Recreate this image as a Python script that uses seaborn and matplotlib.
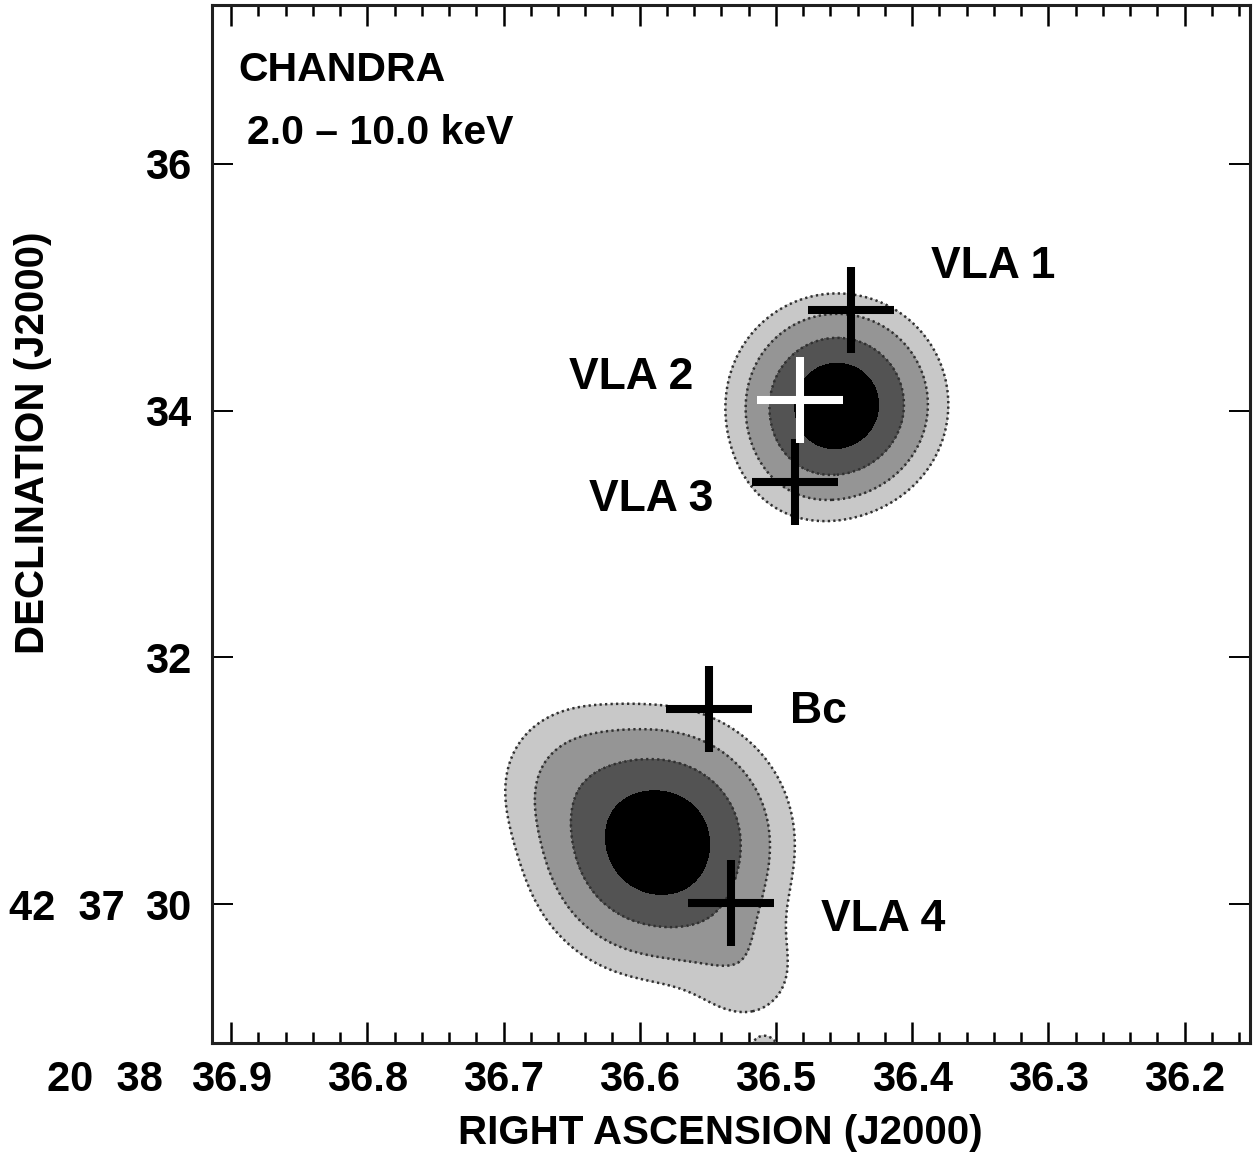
import numpy as np
import pandas as pd
import matplotlib
matplotlib.use('Agg')
import matplotlib.pyplot as plt
from matplotlib import font_manager
from matplotlib.ticker import MultipleLocator
import seaborn as sns

# Componentes de la emision X (RA en s de 20h38m, Dec en arcsec de +42d37')
src_ra = [36.455, 36.478, 36.586, 36.545, 36.521, 36.648, 36.508]
src_dec = [34.050, 33.600, 30.498, 29.833, 29.428, 31.008, 28.804]
src_amp = [1.00, 0.06, 1.00, 0.065, 0.07, 0.12, 0.07]
src_sig = [0.36, 0.30, 0.44, 0.30, 0.28, 0.35, 0.10]   # arcsec

niveles = [0.044, 0.125, 0.325, 0.652, 10.0]
grises = ['#c8c8c8', '#959595', '#535353', '#000000']

# Fuentes de radio
radio_nombre = ['VLA 1', 'VLA 2', 'VLA 3', 'Bc', 'VLA 4']
radio_ra = [36.445, 36.482, 36.486, 36.549, 36.533]
radio_dec = [34.817, 34.087, 33.423, 31.583, 30.011]
radio_color = ['black', 'white', 'black', 'black', 'black']
etiqueta_ra = [36.386, 36.652, 36.637, 36.490, 36.467]
etiqueta_dec = [35.165, 34.266, 33.277, 31.559, 29.874]

ra_ticks = [36.9, 36.8, 36.7, 36.6, 36.5, 36.4, 36.3, 36.2]
dec_ticks = [30, 32, 34, 36]

sns.set_style('white')
disponibles = {f.name for f in font_manager.fontManager.ttflist}
if 'Liberation Sans Narrow' in disponibles:
    fuente_ejes, tam_ticks, tam_labels = 'Liberation Sans Narrow', 35, 35
else:
    fuente_ejes, tam_ticks, tam_labels = 'Liberation Sans', 30, 29
plt.rcParams['font.family'] = ['Liberation Sans', 'DejaVu Sans']
plt.rcParams['font.weight'] = 'bold'
for clave in ['text.color', 'axes.labelcolor', 'xtick.color', 'ytick.color']:
    plt.rcParams[clave] = 'black'

fig = plt.figure(figsize=(12.53, 11.57), dpi=100)
ax = fig.add_axes([212 / 1253, 1 - 1043 / 1157, 1038 / 1253, 1038 / 1157])

# Mapa de intensidad
escala_ra = 15 * np.cos(np.radians(42 + 37 / 60))
gx = np.linspace(36.10, 36.95, 700)
gy = np.linspace(28.40, 37.40, 800)
X, Y = np.meshgrid(gx, gy)
Z = np.zeros_like(X)
for ra, dec, amp, sig in zip(src_ra, src_dec, src_amp, src_sig):
    r2 = ((X - ra) * escala_ra) ** 2 + (Y - dec) ** 2
    Z += amp * np.exp(-r2 / (2 * sig ** 2))

ax.contourf(X, Y, Z, levels=niveles, colors=grises)
ax.contour(X, Y, Z, levels=niveles[:3], colors='#303030', linewidths=1.8,
           linestyles=[(0, (0.9, 1.3))])

# Cruces de las fuentes de radio
df = pd.DataFrame({'nombre': radio_nombre, 'ra': radio_ra, 'dec': radio_dec,
                   'color': radio_color})
for color, grupo in df.groupby('color'):
    sns.scatterplot(data=grupo, x='ra', y='dec', marker='+', s=3900,
                    color=color, linewidth=5.8, ax=ax, zorder=5)

for nombre, x, y in zip(radio_nombre, etiqueta_ra, etiqueta_dec):
    ax.text(x, y, nombre, fontsize=32, fontweight='bold', ha='left', va='center')

ax.text(36.895, 36.762, 'CHANDRA', fontsize=29.5, fontweight='bold', ha='left', va='center')
ax.text(36.888, 36.251, '2.0 – 10.0 keV', fontsize=29.5, fontweight='bold',
        ha='left', va='center')

# Ejes
ax.set_xlim(36.914, 36.152)
ax.set_ylim(28.874, 37.288)
ax.set_xticks(ra_ticks)
ax.set_xticklabels([f'{v:.1f}' for v in ra_ticks])
ax.xaxis.set_minor_locator(MultipleLocator(0.02))
ax.set_yticks(dec_ticks)
ax.set_yticklabels([str(v) for v in dec_ticks])

pad_x, pad_y = 12, 15
ax.tick_params(axis='x', which='major', direction='in', length=15, width=1.8,
               top=True, bottom=True, pad=pad_x)
ax.tick_params(axis='x', which='minor', direction='in', length=8, width=1.8,
               top=True, bottom=True)
ax.tick_params(axis='y', which='major', direction='in', length=15, width=1.4,
               left=True, right=True, pad=pad_y)
for lab in ax.get_xticklabels() + ax.get_yticklabels():
    lab.set_family([fuente_ejes, 'Liberation Sans'])
    lab.set_fontsize(tam_ticks)
    lab.set_fontweight('bold')

for s in ax.spines.values():
    s.set_linewidth(2.2)
    s.set_color('#202020')

ax.annotate('20  38', xy=(36.950, 0), xycoords=('data', 'axes fraction'),
            xytext=(0, -pad_x), textcoords='offset points', ha='right', va='top',
            family=[fuente_ejes, 'Liberation Sans'], fontsize=tam_ticks,
            fontweight='bold', annotation_clip=False)
ax.annotate('42  37', xy=(0, 30), xycoords=('axes fraction', 'data'),
            xytext=(-62.6, 0), textcoords='offset points', ha='right',
            va='center_baseline', family=[fuente_ejes, 'Liberation Sans'],
            fontsize=tam_ticks, fontweight='bold', annotation_clip=False)

ax.set_xlabel('RIGHT ASCENSION (J2000)', family=[fuente_ejes, 'Liberation Sans'],
              fontsize=tam_labels, fontweight='bold')
ax.set_ylabel('DECLINATION (J2000)', family=[fuente_ejes, 'Liberation Sans'],
              fontsize=tam_labels, fontweight='bold')
ax.xaxis.label.set_va('center')
ax.yaxis.label.set_va('center')
ax.xaxis.set_label_coords(0.490, -0.0867)
ax.yaxis.set_label_coords(-0.1724, 0.578)

fig.savefig('out.png', dpi=100)
